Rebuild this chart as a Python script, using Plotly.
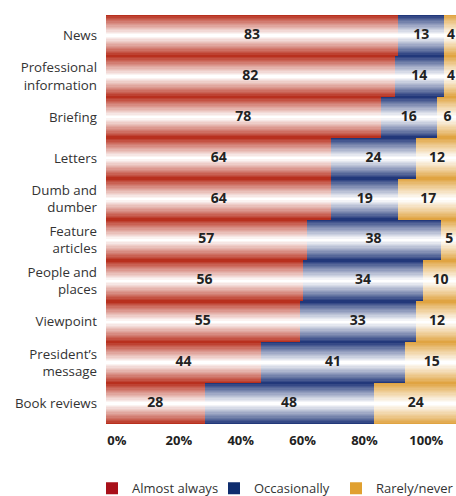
import plotly.graph_objects as go

categories = ["News", "Professional<br>information", "Briefing", "Letters",
              "Dumb and<br>dumber", "Feature<br>articles", "People and<br>places",
              "Viewpoint", "President’s<br>message", "Book reviews"]
almost_always = [83, 82, 78, 64, 64, 57, 56, 55, 44, 28]
occasionally = [13, 14, 16, 24, 19, 38, 34, 33, 41, 48]
rarely_never = [4, 4, 6, 12, 17, 5, 10, 12, 15, 24]
series_names = ["Almost always", "Occasionally", "Rarely/never"]
tick_values = [0, 20, 40, 60, 80, 100]
tick_labels = ["0%", "20%", "40%", "60%", "80%", "100%"]

edge_colors = [(184, 48, 30), (34, 56, 122), (224, 164, 66)]
legend_colors = ["#A8101A", "#0F2D6E", "#E0A030"]

FONT = "Open Sans"
N = 16

def mix(c, t):
    return "rgb(%d,%d,%d)" % tuple(round(a + (255 - a) * t) for a in c)

fig = go.Figure()
series = [almost_always, occasionally, rarely_never]
bases = []
cum = [0] * len(categories)
for s in series:
    bases.append(list(cum))
    cum = [a + b for a, b in zip(cum, s)]

for si, (vals, base) in enumerate(zip(series, bases)):
    for i in range(N):
        t = i / (N - 1)
        w = 1.0 - t * 0.94
        fig.add_trace(go.Bar(
            y=categories, x=vals, base=base, orientation="h",
            width=w, marker=dict(color=mix(edge_colors[si], t ** 0.9), line=dict(width=0)),
            showlegend=False, hoverinfo="skip"))

for si, (vals, base) in enumerate(zip(series, bases)):
    fig.add_trace(go.Scatter(
        y=categories, x=[b + v / 2 for b, v in zip(base, vals)], mode="text",
        text=[str(v) for v in vals], textposition="middle center", cliponaxis=False,
        textfont=dict(family=FONT, size=14, color="#222222", weight="bold"),
        showlegend=False, hoverinfo="skip"))

for si, name in enumerate(series_names):
    fig.add_trace(go.Bar(
        y=[categories[0]], x=[None], orientation="h", name=name,
        marker=dict(color=legend_colors[si], line=dict(width=0)),
        showlegend=True, hoverinfo="skip"))

fig.add_trace(go.Scatter(x=[tick_values[0], tick_values[-1]], y=[categories[0], categories[0]],
                         xaxis="x2", mode="markers", marker=dict(opacity=0),
                         showlegend=False, hoverinfo="skip"))

fig.update_layout(
    width=456, height=496,
    margin=dict(l=106, r=0, t=15, b=72, autoexpand=False),
    paper_bgcolor="white", plot_bgcolor="white",
    barmode="overlay", bargap=0,
    font=dict(family=FONT, color="#333333"),
    xaxis=dict(range=[0, 99.4], showticklabels=False, showgrid=False, automargin=False,
               zeroline=False, showline=False, ticks="", fixedrange=True),
    xaxis2=dict(overlaying="x", anchor="y", side="bottom", range=[-3.54, 109.6],
                tickvals=tick_values, ticktext=tick_labels, showgrid=False, automargin=False,
                zeroline=False, showline=False, ticks="", ticklabelstandoff=7,
                tickfont=dict(family=FONT, size=13, color="#222222", weight="bold")),
    yaxis=dict(type="category", range=[9.5, -0.5], showgrid=False, zeroline=False,
               showline=False, ticks="", ticklabelstandoff=8, automargin=False,
               tickfont=dict(family=FONT, size=13.3, color="#333333")),
    legend=dict(orientation="h", x=-0.04, xanchor="left", y=-0.157, yanchor="middle",
                entrywidth=77, entrywidthmode="pixels",
                font=dict(family=FONT, size=13, color="#333333"),
                traceorder="normal"),
    showlegend=True,
)

fig.write_html("out.html", config={"displayModeBar": False},
               post_script="document.body.style.margin='0';document.body.style.overflow='hidden';")
